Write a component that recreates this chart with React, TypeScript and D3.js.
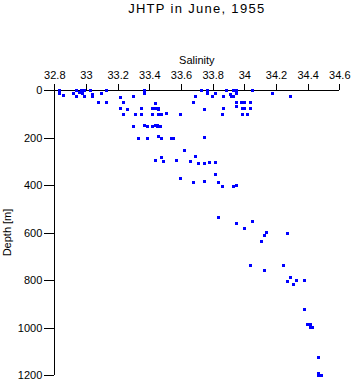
import React, { useRef, useEffect } from "react";
import * as d3 from "d3";

// salinity (psu) and depth (m) of each bottle sample
const salinity = [
  32.83, 32.83, 32.86, 32.92, 32.94, 32.94, 32.96, 32.97, 32.98, 32.99,
  32.99, 33.03, 33.04, 33.04, 33.1, 33.13, 33.08, 33.13, 33.22, 33.22,
  33.24, 33.26, 33.24, 33.3, 33.35, 33.31, 33.35, 33.3, 33.33, 33.37,
  33.37, 33.37, 33.39, 33.39, 33.42, 33.44, 33.45, 33.44, 33.42, 33.44,
  33.46, 33.42, 33.46, 33.46, 33.46, 33.47, 33.48, 33.51, 33.45, 33.47,
  33.48, 33.54, 33.55, 33.6, 33.62, 33.69, 33.68, 33.75, 33.73, 33.77,
  33.77, 33.82, 33.8, 33.87, 33.87, 33.86, 33.75, 33.89, 33.91, 33.92,
  33.93, 33.93, 33.95, 33.95, 33.95, 33.95, 33.98, 34.0, 34.04, 33.99,
  34.0, 34.04, 33.99, 34.02, 34.05, 34.18, 34.29, 33.48, 33.44, 33.49,
  33.57, 33.69, 33.66, 33.71, 33.75, 33.78, 33.82, 33.6, 33.68, 33.75,
  33.82, 33.84, 33.86, 33.93, 33.95, 33.84, 33.95, 34.0, 34.05, 34.14,
  34.13, 34.11, 34.27, 34.04, 34.13, 34.25, 34.29, 34.33, 34.38, 34.27,
  34.31, 34.38, 34.4, 34.42, 34.42, 34.43, 34.47, 34.47, 34.49, 34.47,
];
const depth = [
  3, 13, 25, 13, 3, 27, 10, 3, 13, 0,
  27, 3, 17, 27, 14, 0, 52, 52, 31, 77,
  52, 80, 102, 27, 77, 102, 102, 153, 203, 3,
  13, 150, 155, 203, 153, 150, 153, 56, 77, 77,
  80, 102, 102, 197, 77, 102, 102, 101, 150, 153,
  206, 203, 206, 104, 256, 27, 52, 80, 0, 0,
  14, 14, 27, 27, 77, 102, 202, 0, 17, 27,
  27, 0, 0, 13, 52, 69, 52, 52, 52, 77,
  76, 76, 102, 102, 0, 13, 28, 283, 298, 302,
  295, 278, 300, 309, 309, 304, 304, 372, 389, 384,
  355, 390, 407, 407, 401, 536, 561, 584, 553, 598,
  611, 639, 603, 740, 761, 741, 789, 801, 803, 805,
  818, 923, 989, 987, 1002, 1002, 1125, 1193, 1201, 1201,
];
const salTicks = [32.8, 33, 33.2, 33.4, 33.6, 33.8, 34, 34.2, 34.4, 34.6];
const depthTicks = [0, 200, 400, 600, 800, 1000, 1200];

const font = "'Liberation Sans', Arial, sans-serif";

function SalinityPlot() {
  const svgRef = useRef<SVGSVGElement>(null);

  useEffect(() => {
    const svg = d3.select(svgRef.current);
    svg.selectAll("*").remove();

    const left = 54.3, right = 339.3, top = 90, bottom = 375;

    const x = d3.scaleLinear().domain([32.8, 34.6]).range([left, right]);
    const y = d3.scaleLinear().domain([0, 1200]).range([top, bottom]);

    // title
    svg.append("text")
      .attr("x", (left + right) / 2)
      .attr("y", 13)
      .attr("text-anchor", "middle")
      .style("font-family", font)
      .style("font-size", "13px")
      .style("letter-spacing", "1.3px")
      .text("JHTP in June, 1955");

    // salinity axis on top
    const xAxis = d3.axisTop(x)
      .tickValues(salTicks)
      .tickSize(6)
      .tickPadding(5)
      .tickFormat((d) => String(+(+d).toFixed(1)));
    const gx = svg.append("g").attr("transform", `translate(0,${top})`).call(xAxis);
    gx.select(".domain").attr("d", `M${left},0H${right}`);

    svg.append("text")
      .attr("x", (left + right) / 2)
      .attr("y", 64)
      .attr("text-anchor", "middle")
      .style("font-family", font)
      .style("font-size", "11px")
      .text("Salinity");

    // depth axis
    const yAxis = d3.axisLeft(y)
      .tickValues(depthTicks)
      .tickSize(10)
      .tickPadding(2)
      .tickFormat(d3.format("d"));
    const gy = svg.append("g").attr("transform", `translate(${left},0)`).call(yAxis);
    gy.select(".domain").attr("d", `M0,${top}V${bottom}`);

    svg.selectAll(".tick text")
      .style("font-family", font)
      .style("font-size", "11px")
      .attr("fill", "#000");
    svg.selectAll(".domain, .tick line")
      .attr("stroke", "#000")
      .attr("shape-rendering", "crispEdges");

    svg.append("text")
      .attr("transform", `translate(11,${(top + bottom) / 2}) rotate(-90)`)
      .attr("text-anchor", "middle")
      .style("font-family", font)
      .style("font-size", "11px")
      .text("Depth [m]");

    // samples
    svg.append("g")
      .selectAll("rect")
      .data(d3.range(salinity.length))
      .enter()
      .append("rect")
      .attr("x", (i) => x(salinity[i]) - 1.5)
      .attr("y", (i) => y(depth[i]) - 1.5)
      .attr("width", 3)
      .attr("height", 3)
      .attr("shape-rendering", "crispEdges")
      .style("fill", "#0000ff");
  }, []);

  return <svg ref={svgRef} width={353} height={384} style={{ position: "absolute", left: 0, top: 0 }} />;
}

export default function App() {
  return <SalinityPlot />;
}
